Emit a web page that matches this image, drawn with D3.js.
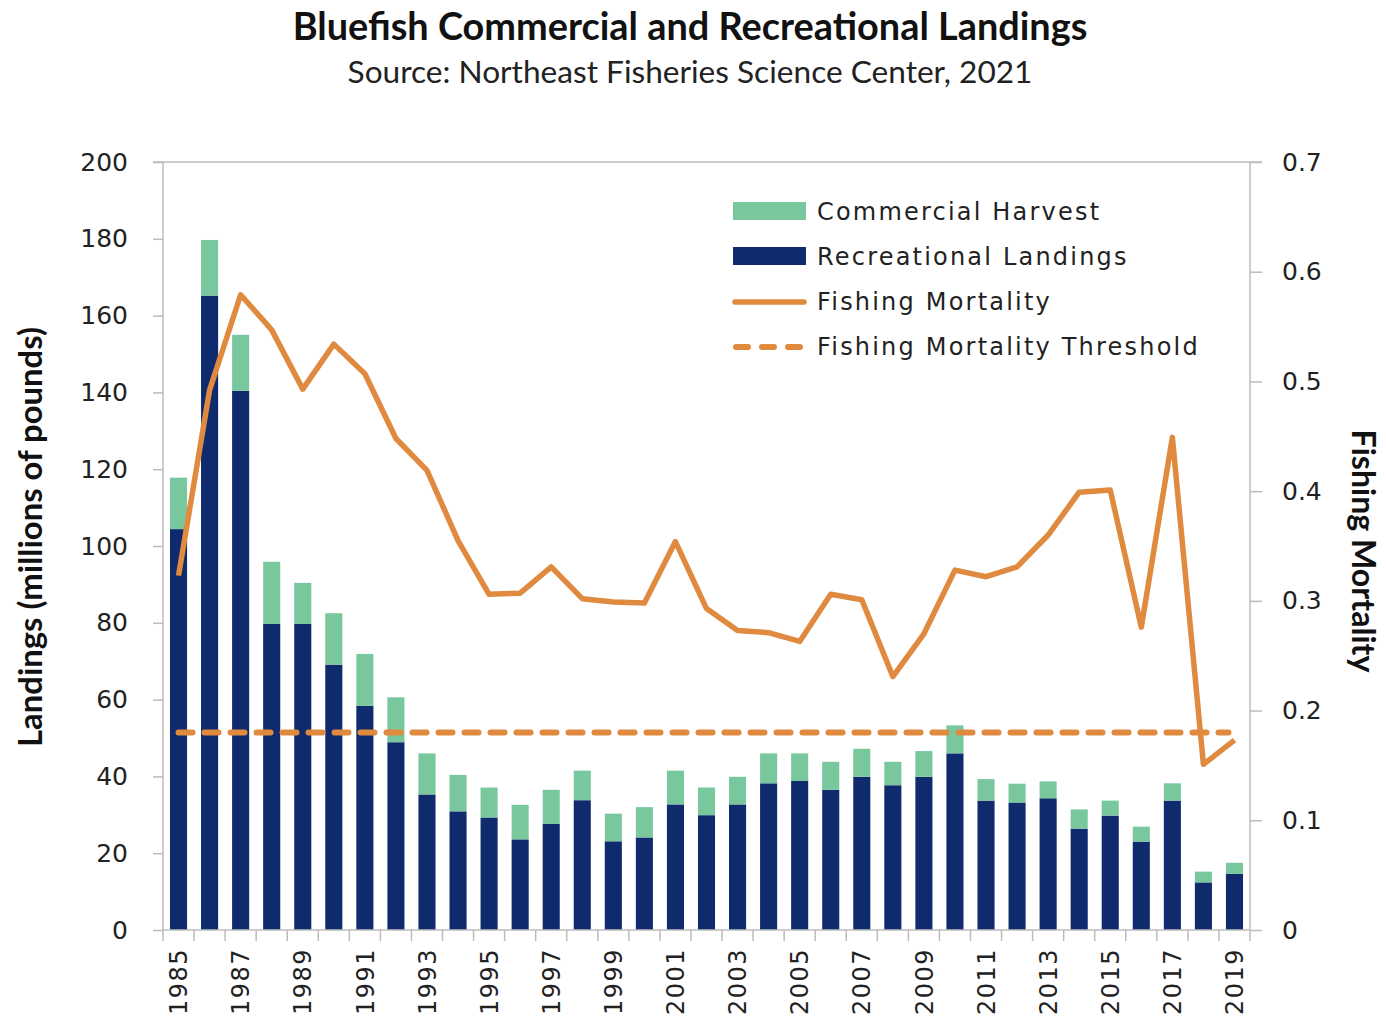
<!DOCTYPE html>
<html>
<head>
<meta charset="utf-8">
<script src="https://cdn.jsdelivr.net/npm/d3@7"></script>
<style>
  body { margin: 0; background: #fff; }
  svg { display: block; }
</style>
</head>
<body>
<svg width="1386" height="1021"></svg>
<script>
// values
const years = [1985, 1986, 1987, 1988, 1989, 1990, 1991, 1992, 1993, 1994, 1995, 1996, 1997, 1998, 1999, 2000, 2001, 2002,
	2003, 2004, 2005, 2006, 2007, 2008, 2009, 2010, 2011, 2012, 2013, 2014, 2015, 2016, 2017, 2018, 2019];
const recreational = [104.4, 165.2, 140.4, 79.7, 79.7, 69.1, 58.4, 48.9, 35.3, 30.9, 29.3, 23.6, 27.6, 33.8, 23.1, 24.1, 32.7, 29.9,
	32.7, 38.2, 38.8, 36.5, 39.9, 37.7, 39.9, 46.0, 33.7, 33.2, 34.3, 26.4, 29.8, 23.0, 33.7, 12.4, 14.6];
const commercial = [13.4, 14.5, 14.6, 16.2, 10.7, 13.4, 13.5, 11.7, 10.7, 9.5, 7.8, 9.0, 8.9, 7.7, 7.2, 7.9, 8.8, 7.2,
	7.2, 7.8, 7.2, 7.3, 7.3, 6.1, 6.7, 7.3, 5.6, 4.9, 4.4, 5.0, 3.9, 3.9, 4.5, 2.8, 2.9];
const mortality = [0.323, 0.492, 0.579, 0.547, 0.493, 0.534, 0.507, 0.448, 0.419, 0.355, 0.306, 0.307, 0.331, 0.302, 0.299, 0.298, 0.354, 0.293,
	0.273, 0.271, 0.263, 0.306, 0.301, 0.231, 0.270, 0.328, 0.322, 0.331, 0.360, 0.399, 0.401, 0.276, 0.449, 0.151, 0.173];
const threshold = 0.18;
const leftTicks = [0, 20, 40, 60, 80, 100, 120, 140, 160, 180, 200];
const rightTicks = [0, 0.1, 0.2, 0.3, 0.4, 0.5, 0.6, 0.7];
const labelYears = [1985, 1987, 1989, 1991, 1993, 1995, 1997, 1999, 2001, 2003, 2005, 2007, 2009, 2011, 2013, 2015, 2017, 2019];

const legendItems = ['Commercial Harvest', 'Recreational Landings', 'Fishing Mortality', 'Fishing Mortality Threshold'];

const navy = '#0f2b6e';
const green = '#79c89d';
const orange = '#df8a3f';
const grey = '#bcbcbc';

const plotLeft = 163, plotRight = 1250, plotTop = 162, plotBottom = 930;

const svg = d3.select('svg');

const x = d3.scaleBand().domain(years).range([ plotLeft, plotRight ]).paddingInner(0.45).paddingOuter(0.225);
const yL = d3.scaleLinear().domain([ 0, 200 ]).range([ plotBottom, plotTop ]);
const yR = d3.scaleLinear().domain([ 0, 0.7 ]).range([ plotBottom, plotTop ]);
const bw = x.bandwidth();
const gap = (x.step() - bw) / 2;

const rows = years.map((y, i) => ({ year: y, rec: recreational[i], com: commercial[i], f: mortality[i] }));

function fit (sel, target) {
	const len = sel.node().getComputedTextLength();
	const fs = parseFloat(sel.attr('font-size'));
	sel.attr('font-size', fs * target / len);
}

// titles
const t1 = svg.append('text')
	.attr('x', 690).attr('y', 40)
	.attr('text-anchor', 'middle')
	.attr('font-family', 'Lato, sans-serif').attr('font-weight', 'bold').attr('font-size', 32)
	.attr('fill', '#111')
	.text('Bluefish Commercial and Recreational Landings');
fit(t1, 795);

const t2 = svg.append('text')
	.attr('x', 690).attr('y', 83)
	.attr('text-anchor', 'middle')
	.attr('font-family', 'Lato, sans-serif').attr('font-size', 27)
	.attr('fill', '#222')
	.text('Source: Northeast Fisheries Science Center, 2021');
fit(t2, 685);

// bars
const bars = svg.append('g');
bars.selectAll('rect.rec').data(rows).enter().append('rect')
	.attr('class', 'rec')
	.attr('x', (d) => x(d.year))
	.attr('width', bw)
	.attr('y', (d) => yL(d.rec))
	.attr('height', (d) => plotBottom - yL(d.rec))
	.attr('fill', navy);
bars.selectAll('rect.com').data(rows).enter().append('rect')
	.attr('class', 'com')
	.attr('x', (d) => x(d.year))
	.attr('width', bw)
	.attr('y', (d) => yL(d.rec + d.com))
	.attr('height', (d) => yL(d.rec) - yL(d.rec + d.com))
	.attr('fill', green);

// left axis
const axL = svg.append('g').attr('transform', `translate(${plotLeft},0)`)
	.call(d3.axisLeft(yL).tickValues(leftTicks).tickSize(10).tickPadding(25));
// right axis
const axR = svg.append('g').attr('transform', `translate(${plotRight},0)`)
	.call(d3.axisRight(yR).tickValues(rightTicks).tickSize(12).tickPadding(20).tickFormat((d) => (d === 0 ? '0' : d3.format('.1f')(d))));
// bottom axis (labels only, every other year)
const axB = svg.append('g').attr('transform', `translate(0,${plotBottom})`)
	.call(d3.axisBottom(x).tickValues(labelYears).tickSize(0).tickPadding(0));

[ axL, axR, axB ].forEach((g) => {
	g.selectAll('path.domain').attr('stroke', grey).attr('stroke-width', 1.5);
	g.selectAll('.tick line').attr('stroke', grey).attr('stroke-width', 1.5);
	g.selectAll('text').attr('font-family', 'DejaVu Sans, sans-serif').attr('font-size', 25).attr('fill', '#222');
});
axL.select('path.domain').attr('d', `M0,${plotTop}V${plotBottom}`);
axR.select('path.domain').attr('d', `M0,${plotTop}V${plotBottom}`);
axB.select('path.domain').attr('d', `M${plotLeft},0H${plotRight}`);

axB.selectAll('.tick text')
	.attr('transform', 'translate(0,18) rotate(-90)')
	.attr('text-anchor', 'end')
	.attr('x', 0).attr('y', 0)
	.attr('dy', '0.36em')
	.attr('font-size', 24)
	.attr('letter-spacing', 1.5);

// tick marks between the year bands
svg.append('g').selectAll('line').data(years.concat([ null ])).enter().append('line')
	.attr('x1', (d) => (d === null ? plotRight : x(d) - gap))
	.attr('x2', (d) => (d === null ? plotRight : x(d) - gap))
	.attr('y1', plotBottom).attr('y2', plotBottom + 11)
	.attr('stroke', grey).attr('stroke-width', 1.5);

// top frame line
svg.append('line')
	.attr('x1', plotLeft - 10).attr('x2', plotRight + 12)
	.attr('y1', plotTop).attr('y2', plotTop)
	.attr('stroke', grey).attr('stroke-width', 1.5);

// threshold dashed line
svg.append('line')
	.attr('x1', x(years[0]) + bw / 2)
	.attr('x2', x(years[years.length - 1]) + bw / 2 - 6)
	.attr('y1', yR(threshold)).attr('y2', yR(threshold))
	.attr('stroke', orange).attr('stroke-width', 6)
	.attr('stroke-dasharray', '14,12')
	.attr('stroke-linecap', 'round');

// fishing mortality line
const line = d3.line().x((d) => x(d.year) + bw / 2).y((d) => yR(d.f));
svg.append('path')
	.datum(rows)
	.attr('d', line)
	.attr('fill', 'none')
	.attr('stroke', orange)
	.attr('stroke-width', 5.5)
	.attr('stroke-linejoin', 'round');

// axis titles
const tl = svg.append('text')
	.attr('transform', 'translate(42,537) rotate(-90)')
	.attr('text-anchor', 'middle')
	.attr('font-family', 'Lato, sans-serif').attr('font-weight', 'bold').attr('font-size', 27)
	.attr('fill', '#111')
	.text('Landings (millions of pounds)');
fit(tl, 420);

const tr = svg.append('text')
	.attr('transform', 'translate(1352,551) rotate(90)')
	.attr('text-anchor', 'middle')
	.attr('font-family', 'Lato, sans-serif').attr('font-weight', 'bold').attr('font-size', 27)
	.attr('fill', '#111')
	.text('Fishing Mortality');
fit(tr, 243);

// legend
const lg = svg.append('g').attr('transform', 'translate(733,211)');
const lrow = lg.selectAll('g').data(legendItems).enter().append('g')
	.attr('transform', (d, i) => `translate(0,${i * 45})`);
lrow.filter((d, i) => i < 2).append('rect')
	.attr('x', 0).attr('y', -9).attr('width', 73).attr('height', 18)
	.attr('fill', (d, i) => (i === 0 ? green : navy));
lrow.filter((d, i) => i === 2).append('line')
	.attr('x1', 2).attr('x2', 71).attr('y1', 1).attr('y2', 1)
	.attr('stroke', orange).attr('stroke-width', 5.5).attr('stroke-linecap', 'round');
lrow.filter((d, i) => i === 3).append('line')
	.attr('x1', 3).attr('x2', 72).attr('y1', 1).attr('y2', 1)
	.attr('stroke', orange).attr('stroke-width', 6).attr('stroke-dasharray', '12,14').attr('stroke-linecap', 'round');
lrow.append('text')
	.attr('x', 84).attr('y', 0).attr('dy', '0.36em')
	.attr('font-family', 'DejaVu Sans, sans-serif').attr('font-size', 24)
	.attr('letter-spacing', 2.2)
	.attr('fill', '#222')
	.text((d) => d);
</script>
</body>
</html>
